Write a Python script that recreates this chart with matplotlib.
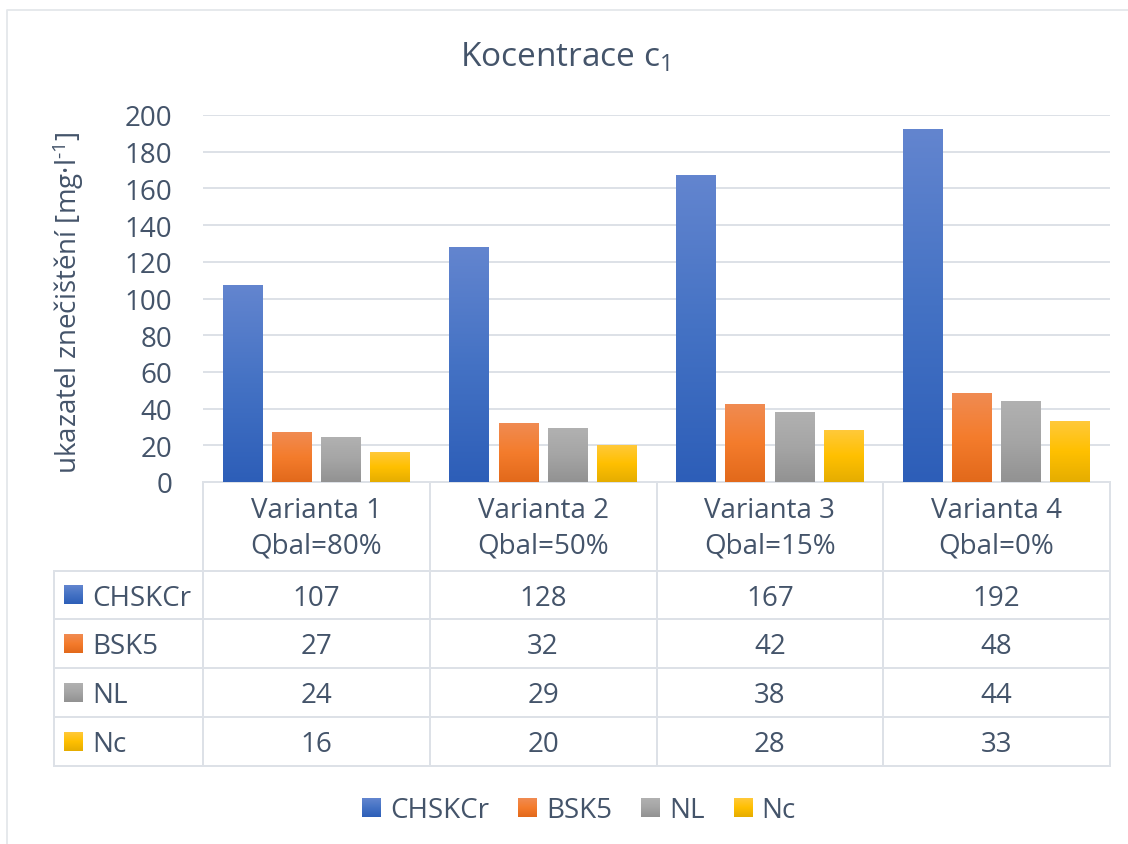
import matplotlib
matplotlib.use('Agg')
import matplotlib.pyplot as plt
import numpy as np
from matplotlib.colors import LinearSegmentedColormap

plt.rcParams['font.family'] = ['Open Sans', 'DejaVu Sans']
plt.rcParams['mathtext.fontset'] = 'custom'
plt.rcParams['mathtext.rm'] = 'Open Sans'
plt.rcParams['mathtext.it'] = 'Open Sans:italic'

# data
variants = ['Varianta 1', 'Varianta 2', 'Varianta 3', 'Varianta 4']
qbal = ['Qbal=80%', 'Qbal=50%', 'Qbal=15%', 'Qbal=0%']
series = ['CHSKCr', 'BSK5', 'NL', 'Nc']
chskcr = [107, 128, 167, 192]
bsk5 = [27, 32, 42, 48]
nl = [24, 29, 38, 44]
nc = [16, 20, 28, 33]
values = [chskcr, bsk5, nl, nc]

# gradient stops per series (bottom, middle, top)
grads = [['#2d5eb8', '#4472c4', '#6385cf'],
         ['#e2691b', '#f47c2c', '#f08b52'],
         ['#929292', '#a5a5a5', '#b1b1b1'],
         ['#e5ad00', '#ffc000', '#ffc93a']]
cmaps = [LinearSegmentedColormap.from_list('g%d' % k, g) for k, g in enumerate(grads)]
txt = '#44546a'
line = '#dde1e7'
grad = np.linspace(0, 1, 256).reshape(-1, 1)

W, H = 1128, 845
L, R, T, B = 203, 1110, 116, 483      # plot area, pixels
row_y = [572, 620, 669, 718, 767]     # table row borders
tab_left = 54

fig = plt.figure(figsize=(W / 100, H / 100), dpi=100)
ax = fig.add_axes([L / W, 1 - B / H, (R - L) / W, (B - T) / H])

x = np.arange(len(variants))
step, bw = 0.217, 0.176
for j, vals in enumerate(values):
    for i, v in enumerate(vals):
        x0 = x[i] + (j - 1.5) * step - bw / 2
        ax.imshow(grad, extent=[x0, x0 + bw, 0, v], origin='lower',
                  aspect='auto', cmap=cmaps[j], zorder=3)

ax.set_xlim(-0.5, len(variants) - 0.5)
ax.set_ylim(0, 200)
ax.set_yticks(range(0, 201, 20))
ax.set_xticks([])
ax.yaxis.grid(True, color=line, lw=1.4)
ax.set_axisbelow(True)
ax.tick_params(axis='y', length=0, pad=22, labelsize=20, labelcolor=txt)
for s in ax.spines.values():
    s.set_visible(False)

# overlay in pixel coordinates for table, title, legend
ov = fig.add_axes([0, 0, 1, 1], zorder=-1)
ov.patch.set_visible(False)


def grad_box(x0, yc, size, cmap):
    ov.imshow(grad, extent=[x0, x0 + size, yc + size / 2, yc - size / 2],
              origin='lower', aspect='auto', cmap=cmap)


# outer frame
ov.plot([7, 7, W], [H, 11, 11], color='#e4e7eb', lw=1.3)

ov.text(565, 58, 'Kocentrace c$_\\mathrm{1}$', ha='center', va='center',
        fontsize=24, color=txt)
ov.text(68, 303, 'ukazatel znečištění [mg·l$^{\\text{-1}}$]', ha='center',
        va='center', rotation=90, fontsize=20, color=txt)

# data table
xb = np.linspace(L, R, len(variants) + 1)
ov.plot([L, R], [B, B], color=line, lw=1.4)
for y in row_y:
    ov.plot([tab_left, R], [y, y], color=line, lw=1.4)
ov.plot([tab_left, tab_left], [row_y[0], row_y[-1]], color=line, lw=1.4)
for xv in xb:
    ov.plot([xv, xv], [B, row_y[-1]], color=line, lw=1.4)

for i in range(len(variants)):
    ov.text((xb[i] + xb[i + 1]) / 2, (B + row_y[0]) / 2 + 1,
            variants[i] + '\n' + qbal[i], ha='center', va='center',
            fontsize=20, color=txt, linespacing=1.35)

for j, name in enumerate(series):
    yc = (row_y[j] + row_y[j + 1]) / 2
    grad_box(64, yc, 19, cmaps[j])
    ov.text(92, yc + 3, name, ha='left', va='center', fontsize=20, color=txt)
    for i, v in enumerate(values[j]):
        ov.text((xb[i] + xb[i + 1]) / 2, yc + 3, str(v), ha='center',
                va='center', fontsize=20, color=txt)

# legend
leg_y, box, gap_in, gap_out = 809, 19, 9, 29
labels = [ov.text(0, leg_y + 2, s, ha='left', va='center', fontsize=20, color=txt)
          for s in series]
fig.canvas.draw()
widths = [t.get_window_extent().width for t in labels]
total = sum(box + gap_in + w for w in widths) + gap_out * (len(series) - 1)
cx = 579 - total / 2
for j, t in enumerate(labels):
    grad_box(cx, leg_y, box, cmaps[j])
    t.set_x(cx + box + gap_in)
    cx += box + gap_in + widths[j] + gap_out

ov.set_xlim(0, W)
ov.set_ylim(H, 0)
ov.axis('off')

fig.savefig('out.png', dpi=100)
